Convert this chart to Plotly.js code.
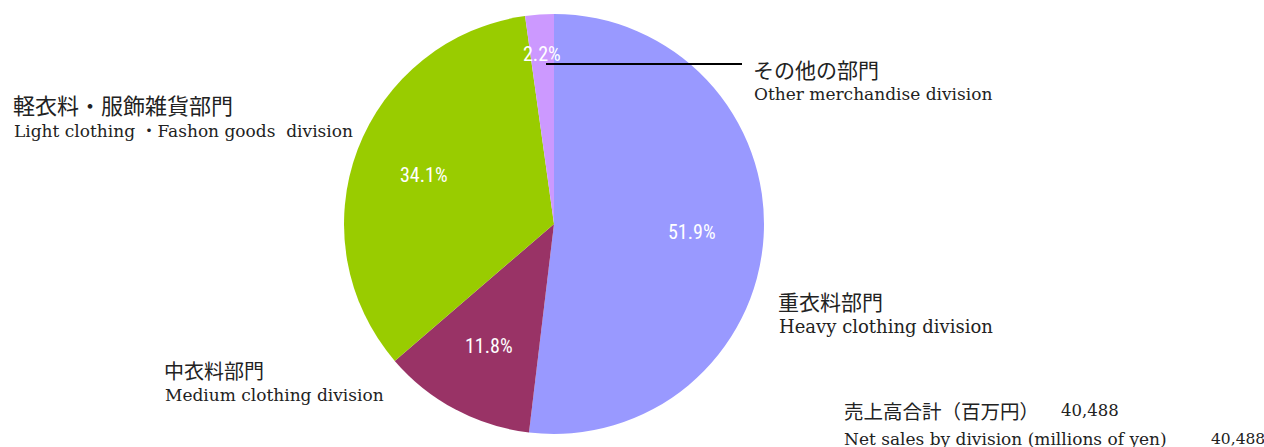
<!DOCTYPE html>
<html><head><meta charset="utf-8">
<script src="https://cdn.plot.ly/plotly-3.0.1.min.js"></script>
<style>html,body{margin:0;padding:0;background:#fff;}#chart{width:1264px;height:447px;}</style>
</head><body><div id="chart"></div>
<script>
const divisionsJa = ["重衣料部門", "中衣料部門", "軽衣料・服飾雑貨部門", "その他の部門"];
const divisionsEn = ["Heavy clothing division", "Medium clothing division", "Light clothing ・Fashon goods  division", "Other merchandise division"];
const shares = [51.9, 11.8, 34.1, 2.2];
const colors = ["#9999FF", "#993366", "#99CC00", "#CC99FF"];
const totalLabelJa = "売上高合計（百万円）";
const totalLabelEn = "Net sales by division (millions of yen)";
const totalSales = "40,488";

const W = 1264, H = 447;
const cx = 554, cy = 224, r = 210;
const serifEn = '"DejaVu Serif", "Noto Sans CJK JP", serif';
const serifJa = '"Noto Sans CJK JP", serif';
const px = x => x / W, py = y => 1 - y / H;

const trace = {
  type: 'pie', values: shares, labels: divisionsEn, sort: false, direction: 'clockwise', rotation: 0,
  marker: {colors: colors, line: {width: 0}},
  textposition: 'none',
  domain: {x: [px(cx - r), px(cx + r)], y: [py(cy + r), py(cy - r)]},
  showlegend: false, hoverinfo: 'label+percent'
};

function lab(x, y, text, family, size) {
  return {xref: 'paper', yref: 'paper', x: px(x), y: py(y), xanchor: 'left', yanchor: 'middle',
    text: text, showarrow: false, font: {family: family, size: size, color: '#222'}};
}
const annotations = [
  lab(11, 104, divisionsJa[2], serifJa, 22), lab(12, 131, divisionsEn[2], serifEn, 17),
  lab(751, 69, divisionsJa[3], serifJa, 21), lab(752, 94, divisionsEn[3], serifEn, 17),
  lab(776, 301, divisionsJa[0], serifJa, 21), lab(777, 326, divisionsEn[0], serifEn, 18),
  lab(162, 370, divisionsJa[1], serifJa, 20), lab(163, 395, divisionsEn[1], serifEn, 17),
  lab(842, 410, totalLabelJa, serifJa, 19.5), lab(1059, 410, totalSales, serifEn, 16.5),
  lab(842, 439, totalLabelEn, serifEn, 17), lab(1209, 439, totalSales, serifEn, 15.5)
];
// percentage labels placed at each slice's mid-angle
const total = shares.reduce((a, b) => a + b, 0);
let cum = 0;
shares.forEach(v => {
  const mid = (cum + v / 2) / total * 2 * Math.PI;
  cum += v;
  const f = v / total < 0.05 ? 0.81 : 0.66;
  annotations.push({xref: 'paper', yref: 'paper', x: px(cx + f * r * Math.sin(mid)), y: py(cy - f * r * Math.cos(mid)),
    xanchor: 'center', yanchor: 'middle', showarrow: false,
    text: (v / total * 100).toFixed(1) + '%',
    font: {family: '"Liberation Sans Narrow", "Roboto Condensed", Roboto, sans-serif', size: 20, color: '#ffffff'}});
});
const shapes = [{type: 'line', xref: 'paper', yref: 'paper', x0: px(546), x1: px(742), y0: py(64), y1: py(64), line: {color: '#000', width: 2}}];

Plotly.newPlot('chart', [trace], {
  width: W, height: H, margin: {l: 0, r: 0, t: 0, b: 0},
  paper_bgcolor: '#fff', annotations: annotations, shapes: shapes
}, {displayModeBar: false, staticPlot: true});
</script></body></html>
